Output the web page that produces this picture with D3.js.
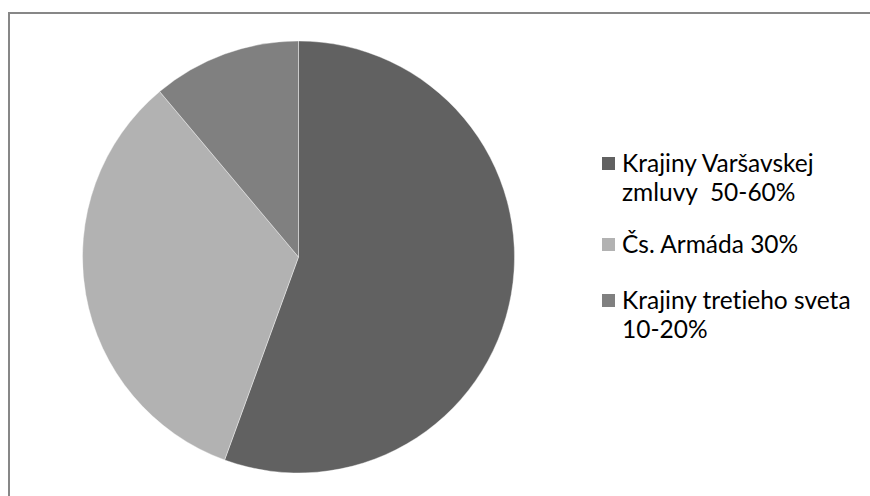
<!DOCTYPE html>
<html><head><meta charset="utf-8">
<script src="https://cdn.jsdelivr.net/npm/d3@7"></script>
<style>html,body{margin:0;padding:0;background:#fff;overflow:hidden} text{white-space:pre;font-variant-ligatures:none;font-feature-settings:"liga" 0}</style>
</head><body>
<svg id="chart" width="870" height="496"></svg>
<script>
const categories = ["Krajiny Varšavskej zmluvy  50-60%", "Čs. Armáda 30%", "Krajiny tretieho sveta 10-20%"];
const legendLines = [["Krajiny Varšavskej", "zmluvy  50-60%"], ["Čs. Armáda 30%"], ["Krajiny tretieho sveta", "10-20%"]];
const values = [50, 30, 10];
const colors = ["#616161", "#b2b2b2", "#808080"];

const svg = d3.select("#chart");
svg.append("rect").attr("x", 9).attr("y", 13).attr("width", 900).attr("height", 600)
  .attr("fill", "#fff").attr("stroke", "#878787").attr("stroke-width", 2);

const cx = 298.5, cy = 257, r = 216;
const pie = d3.pie().sort(null).value(d => d)(values);
const arc = d3.arc().innerRadius(0).outerRadius(r);
const color = d3.scaleOrdinal().domain(d3.range(values.length)).range(colors);
const g = svg.append("g").attr("transform", `translate(${cx},${cy})`);
g.selectAll("path").data(pie).join("path")
  .attr("d", arc).attr("fill", (d, i) => color(i))
  .attr("stroke", "#fff").attr("stroke-width", 0.4);

const legY = [163, 244, 300];
const lg = svg.append("g").attr("font-family", "Lato, 'Open Sans', sans-serif").attr("font-size", 24.5).attr("fill", "#000");
legendLines.forEach((lines, i) => {
  lg.append("rect").attr("x", 602).attr("y", legY[i] - 6).attr("width", 13).attr("height", 13).attr("fill", color(i));
  lines.forEach((t, j) => {
    lg.append("text").attr("x", 622).attr("y", legY[i] + j * 29).attr("dy", "0.35em").text(t);
  });
});
</script>
</body></html>
